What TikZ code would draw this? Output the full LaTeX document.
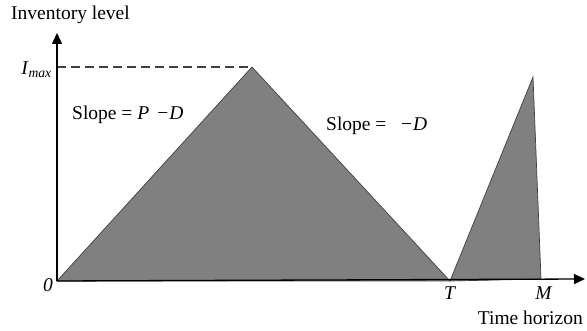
\documentclass[tikz,border=0pt]{standalone}
\usepackage{fontspec}
\setmainfont{Liberation Serif}
\usetikzlibrary{arrows.meta}
\tikzset{
  axisline/.style={line width=1.3pt, -{Triangle[length=11pt,width=10pt]}},
  invarea/.style={fill=black!50, draw=black!75, line width=0.7pt, line join=miter},
  lbl/.style={font=\fontsize{19.5}{22}\selectfont, inner sep=0pt}}

\begin{document}
\begin{tikzpicture}[x=1pt,y=-1pt]
\useasboundingbox (0,0) rectangle (587,331);
\coordinate (o) at (57,281);
\coordinate (ytop) at (57,33);
\coordinate (xend) at (585,279);
\coordinate (peak) at (252,67);
\coordinate (imax) at (57,67);
\coordinate (t) at (450,281);
\coordinate (peak2) at (533,77);
\coordinate (m) at (541,279);
% shaded inventory
\filldraw[invarea] (o) -- (peak) -- (t) -- cycle;
\filldraw[invarea] (t) -- (peak2) -- (m) -- cycle;
\draw[dashed, line width=1.2pt, black!75, dash pattern=on 9pt off 5pt] (imax) -- (peak);
% axes
\draw[axisline] (o) -- (ytop);
\draw[axisline] (o) -- (xend);
\node[lbl, anchor=west] (ylab) at (11,15) {Inventory level};
\node[lbl, anchor=east] (xlab) at (583,318) {Time horizon};
\node[lbl, anchor=east] (imaxlab) at (52,70) {\textit{I}\textsubscript{\textit{max}}};
\node[lbl, anchor=east] (zero) at (53,285) {\textit{0}};
\node[lbl, anchor=north] (tlab) at (t |- 0,287) {\textit{T}};
\node[lbl, anchor=north] (mlab) at (544,287) {\textit{M}};
\node[lbl, anchor=west] (slope1) at (72,115) {Slope = \textit{P} \,−\kern1pt\textit{D}};
\node[lbl, anchor=west] (slope2) at (326,126) {Slope = \ \ −\kern1pt\textit{D}};
\end{tikzpicture}
\end{document}
